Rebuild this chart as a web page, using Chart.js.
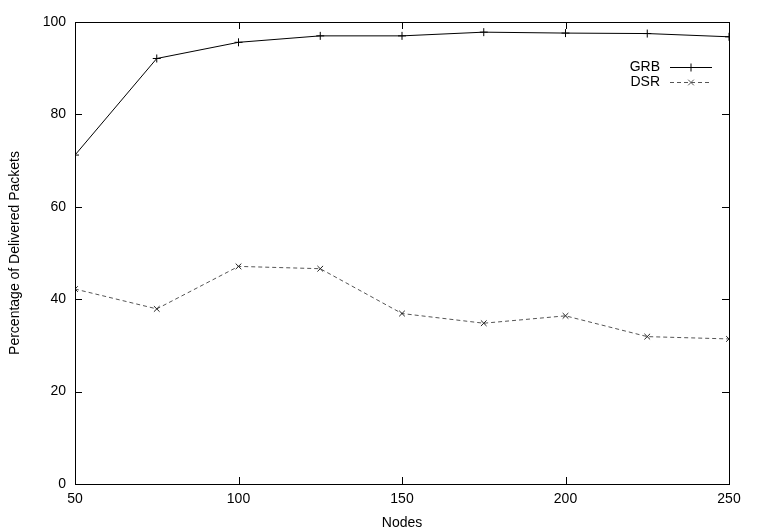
<!DOCTYPE html>
<html>
<head>
<meta charset="utf-8">
<script src="https://cdn.jsdelivr.net/npm/chart.js@4"></script>
<style>
  html, body { margin: 0; padding: 0; background: #fff; }
  canvas { display: block; }
</style>
</head>
<body>
<canvas id="chart" width="759" height="532"></canvas>
<script>
// values
const nodes = [50, 75, 100, 125, 150, 175, 200, 225, 250];
const grbValues = [71.2, 92.1, 95.6, 97.0, 97.0, 97.8, 97.6, 97.5, 96.8];
const dsrValues = [42.2, 37.9, 47.1, 46.6, 36.9, 34.8, 36.4, 31.9, 31.4];
const seriesNames = ['GRB', 'DSR'];

const FONT = 'Liberation Sans, Arial, Helvetica, sans-serif';

// gnuplot style: frame box + inward ticks on all four sides
const frameTicks = {
    id: 'frameTicks',
    afterDatasetsDraw(chart) {
        const { ctx, chartArea: a, scales } = chart;
        const len = 7;
        ctx.save();
        ctx.strokeStyle = '#000';
        ctx.lineWidth = 1;
        ctx.strokeRect(a.left + 0.5, a.top + 0.5, a.right - a.left, a.bottom - a.top);
        ctx.beginPath();
        scales.x.ticks.forEach(t => {
            const px = Math.round(scales.x.getPixelForValue(t.value)) + 0.5;
            ctx.moveTo(px, a.bottom); ctx.lineTo(px, a.bottom - len);
            ctx.moveTo(px, a.top); ctx.lineTo(px, a.top + len);
        });
        scales.y.ticks.forEach(t => {
            const py = Math.round(scales.y.getPixelForValue(t.value)) + 0.5;
            ctx.moveTo(a.left, py); ctx.lineTo(a.left + len, py);
            ctx.moveTo(a.right, py); ctx.lineTo(a.right - len, py);
        });
        ctx.stroke();
        ctx.restore();
    }
};

// key in the top right, text first then the line sample
const gnuKey = {
    id: 'gnuKey',
    afterDraw(chart) {
        const { ctx } = chart;
        const textRight = 660, x0 = 670, x1 = 712, y0 = 67, step = 15;
        ctx.save();
        ctx.font = '14px ' + FONT;
        ctx.textAlign = 'right';
        ctx.textBaseline = 'middle';
        chart.data.datasets.forEach((ds, i) => {
            const y = y0 + i * step;
            ctx.fillStyle = '#000';
            ctx.fillText(ds.label, textRight, y);
            ctx.strokeStyle = ds.borderColor;
            ctx.lineWidth = 1;
            ctx.setLineDash(ds.borderDash || []);
            ctx.beginPath();
            ctx.moveTo(x0, y + 0.5); ctx.lineTo(x1, y + 0.5);
            ctx.stroke();
            ctx.setLineDash([]);
            Chart.helpers.drawPoint(ctx, {
                pointStyle: ds.pointStyle, radius: ds.pointRadius, borderWidth: 1
            }, (x0 + x1) / 2, y + 0.5);
        });
        ctx.restore();
    }
};

new Chart(document.getElementById('chart'), {
    type: 'line',
    data: {
        datasets: [{
            label: seriesNames[0],
            data: nodes.map((n, i) => ({ x: n, y: grbValues[i] })),
            borderColor: '#000',
            backgroundColor: '#000',
            borderWidth: 1,
            pointStyle: 'cross',
            pointRadius: 4,
            pointBorderWidth: 1,
            pointBorderColor: '#000',
            tension: 0
        }, {
            label: seriesNames[1],
            data: nodes.map((n, i) => ({ x: n, y: dsrValues[i] })),
            borderColor: '#555',
            backgroundColor: '#000',
            borderWidth: 1,
            borderDash: [4, 3],
            pointStyle: 'crossRot',
            pointRadius: 4,
            pointBorderWidth: 1,
            pointBorderColor: '#222',
            tension: 0
        }]
    },
    options: {
        responsive: false,
        animation: false,
        layout: { padding: { left: 0, right: 30, top: 22, bottom: 0 } },
        scales: {
            x: {
                type: 'linear',
                min: 50, max: 250,
                grid: { display: false, drawTicks: false },
                border: { display: false },
                ticks: { stepSize: 50, padding: 7, color: '#000', font: { family: FONT, size: 14 } },
                title: { display: true, text: 'Nodes', color: '#000', padding: { top: 4, bottom: 0 }, font: { family: FONT, size: 14 } },
                afterFit(scale) { scale.height = 48; }
            },
            y: {
                min: 0, max: 100,
                grid: { display: false, drawTicks: false },
                border: { display: false },
                ticks: { stepSize: 20, padding: 9, color: '#000', font: { family: FONT, size: 14 } },
                title: { display: true, text: 'Percentage of Delivered Packets', color: '#000', padding: { top: 7, bottom: 0 }, font: { family: FONT, size: 14 } },
                afterFit(scale) { scale.width = 75; }
            }
        },
        plugins: {
            legend: { display: false },
            tooltip: { enabled: false }
        }
    },
    plugins: [frameTicks, gnuKey]
});
</script>
</body>
</html>
